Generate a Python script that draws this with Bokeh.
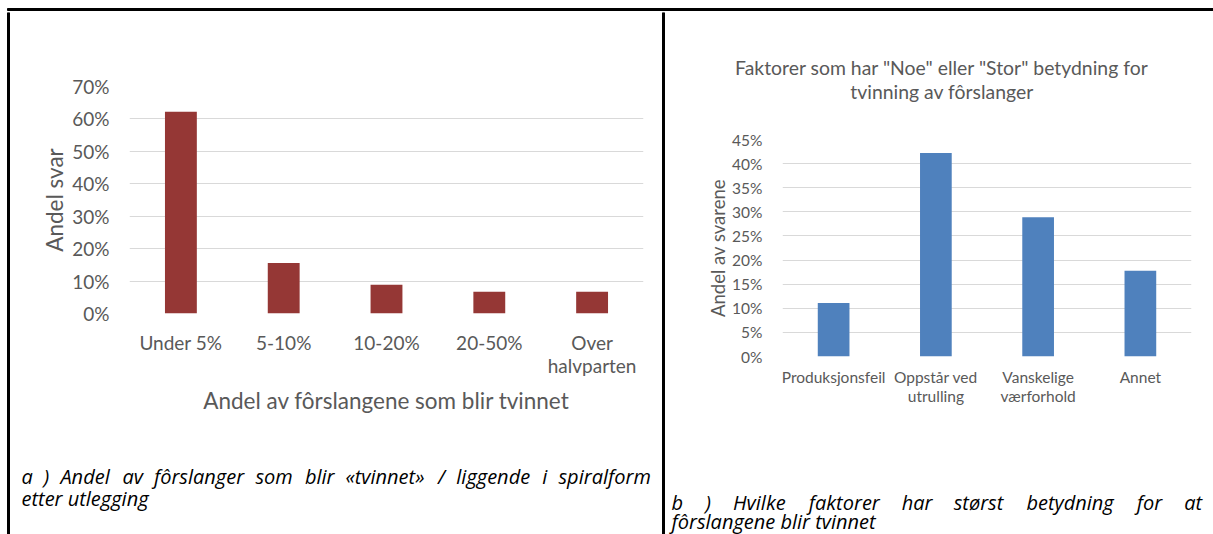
from bokeh.plotting import figure
from bokeh.layouts import row, column
from bokeh.models import Range1d, FixedTicker, NumeralTickFormatter, ColumnDataSource
from bokeh.core.properties import value
from bokeh.embed import file_html
from bokeh.resources import INLINE

# ---------------- data ----------------
cats_a = ["Under 5%", "5-10%", "10-20%", "20-50%", "Over\nhalvparten"]
vals_a = [0.622, 0.156, 0.089, 0.067, 0.067]
yticks_a = [0.0, 0.1, 0.2, 0.3, 0.4, 0.5, 0.6, 0.7]
ytitle_a = "Andel svar"
xtitle_a = "Andel av fôrslangene som blir tvinnet"
caption_a = ["a ) Andel av fôrslanger som blir «tvinnet» / liggende i spiralform",
             "etter utlegging"]

title_b = ['Faktorer som har "Noe" eller "Stor" betydning for',
           "tvinning av fôrslanger"]
cats_b = ["Produksjonsfeil", "Oppstår ved\nutrulling", "Vanskelige\nværforhold", "Annet"]
vals_b = [0.111, 0.422, 0.289, 0.178]
yticks_b = [0.0, 0.05, 0.10, 0.15, 0.20, 0.25, 0.30, 0.35, 0.40, 0.45]
ytitle_b = "Andel av svarene"
caption_b = ["b ) Hvilke faktorer har størst betydning for at",
             "fôrslangene blir tvinnet"]

# ---------------- style ----------------
FONT = "Lato"
CAP_FONT = "Open Sans"
CAP_SIZE = "20px"
GRAY = "#595959"
GRID = "#D9D9D9"
RED = "#953735"
BLUE = "#4F81BD"
# justified first caption lines: left edge of every word (page px)
WORD_X_A = [21, 42.9, 59.9, 122.0, 153.4, 254.9, 304.4, 344.9, 437.4, 455.8,
            541.8, 558.0]
WORD_X_B = [671, 704.7, 732.5, 808.3, 901.2, 953.2, 1025.9, 1136.2, 1183.8]


def blank(x0, y0, w, h):
    """A figure whose frame is its whole canvas; data units = page pixels."""
    f = figure(width=w, height=h, x_range=Range1d(x0, x0 + w),
               y_range=Range1d(y0 + h, y0), min_border=0,
               x_axis_location=None, y_axis_location=None,
               output_backend="svg", toolbar_location=None)
    f.xgrid.visible = False
    f.ygrid.visible = False
    f.outline_line_color = None
    return f


def chart(cats, vals, ymax, yticks, w, h, m, color, tick_size, title_size,
          ytitle, xtitle, xstand, ystand, xlabstand, ylabstand, lh):
    p = figure(x_range=cats, y_range=Range1d(0, ymax), width=w, height=h,
               min_border_left=m[0], min_border_right=m[1],
               min_border_top=m[2], min_border_bottom=m[3],
               output_backend="svg", toolbar_location=None)
    src = ColumnDataSource(dict(x=cats, top=vals))
    p.vbar(x="x", top="top", width=0.31, source=src, fill_color=color,
           line_color=None)
    p.outline_line_color = None
    p.xgrid.grid_line_color = None
    p.ygrid.ticker = FixedTicker(ticks=yticks)
    p.ygrid.grid_line_color = GRID

    ya = p.yaxis[0]
    ya.ticker = FixedTicker(ticks=yticks, minor_ticks=[])
    ya.formatter = NumeralTickFormatter(format="0%")
    ya.axis_line_color = None
    ya.major_tick_line_color = None
    ya.minor_tick_line_color = None
    ya.major_tick_out = 0
    ya.major_label_standoff = ystand
    ya.major_label_text_font = FONT
    ya.major_label_text_font_size = tick_size
    ya.major_label_text_color = GRAY
    ya.axis_label = ytitle
    ya.axis_label_text_font = FONT
    ya.axis_label_text_font_size = title_size
    ya.axis_label_text_font_style = "normal"
    ya.axis_label_text_color = GRAY
    ya.axis_label_standoff = ylabstand

    xa = p.xaxis[0]
    xa.axis_line_color = None
    xa.major_tick_line_color = None
    xa.major_tick_out = 0
    xa.major_label_standoff = xstand
    xa.major_label_text_font = FONT
    xa.major_label_text_font_size = tick_size
    xa.major_label_text_color = GRAY
    xa.major_label_text_line_height = lh
    if xtitle:
        xa.axis_label = xtitle
        xa.axis_label_text_font = FONT
        xa.axis_label_text_font_size = title_size
        xa.axis_label_text_font_style = "normal"
        xa.axis_label_text_color = GRAY
        xa.axis_label_standoff = xlabstand
    return p


def put_text(f, x, y, txt, size, color="black", style="normal", align="left",
             baseline="alphabetic", font=FONT):
    f.text(x=x, y=y, text=txt, text_font=value(font), text_font_size=size,
           text_color=color, text_font_style=style, text_align=align,
           text_baseline=baseline)


def caption(f, lines, word_x, y1, y2):
    words = lines[0].split(" ")
    put_text(f, word_x, [y1] * len(words), words, CAP_SIZE, style="italic",
             font=CAP_FONT)
    put_text(f, [word_x[0]], [y2], [lines[1]], CAP_SIZE, style="italic",
             font=CAP_FONT)


# ---------------- border strips ----------------
top = blank(0, 0, 1213, 12)
top.quad(left=[7], right=[1213], top=[8], bottom=[10], color="black")
left = blank(0, 12, 12, 522)
left.quad(left=[7], right=[9], top=[12], bottom=[534], color="black")
mid = blank(661, 12, 4, 522)
mid.quad(left=[662], right=[664], top=[12], bottom=[534], color="black")

# ---------------- chart a + caption ----------------
pa = chart(cats_a, vals_a, 0.7, yticks_a, 649, 428, (117, 18, 74, 127), RED,
           "19px", "22.5px", ytitle_a, xtitle_a, 17, 20, 7, 1, 1.02)
cap_a = blank(12, 440, 649, 94)
caption(cap_a, caption_a, WORD_X_A, 476, 498)

# ---------------- chart b + title + caption ----------------
tit_b = blank(665, 12, 548, 108)
put_text(tit_b, [941.5, 941.5], [66.7, 91], title_b, "19.4px", GRAY,
         align="center", baseline="middle")
pb = chart(cats_b, vals_b, 0.45, yticks_b, 548, 300, (117, 22, 19, 64), BLUE,
           "15.5px", "18.5px", ytitle_b, None, 11, 20, 7, 0, 1.08)
cap_b = blank(665, 420, 548, 114)
caption(cap_b, caption_b, WORD_X_B, 502, 521)

layout = column(
    column(top),
    row(column(left),
        column(column(pa), column(cap_a)),
        column(mid),
        column(column(tit_b), column(pb), column(cap_b))),
)
open("out.html", "w").write(file_html(layout, INLINE))
